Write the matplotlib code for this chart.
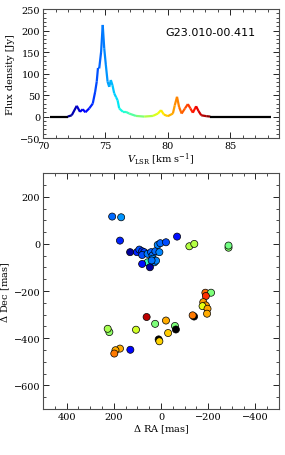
import numpy as np
import matplotlib
import matplotlib.pyplot as plt
from matplotlib.collections import LineCollection
from matplotlib.ticker import MultipleLocator

plt.rcParams['font.family'] = 'DejaVu Serif'
plt.rcParams['mathtext.fontset'] = 'dejavuserif'

# spectrum
vel = [70.58, 71.0, 71.5, 71.98, 72.3, 72.7, 72.96, 73.18, 73.39, 73.7, 73.98,
       74.17, 74.3, 74.4, 74.5, 74.65, 74.78, 74.9, 75.03, 75.17, 75.3, 75.43,
       75.56, 75.7, 75.85, 75.97, 76.1, 76.4, 76.64, 76.9, 77.44, 78.1, 78.8,
       79.2, 79.45, 79.68, 80.0, 80.4, 80.55, 80.73, 80.9, 81.1, 81.37, 81.6,
       81.8, 82.0, 82.26, 82.45, 82.67, 83.07, 83.4, 84.5, 86.0, 87.5, 88.23]
flux = [0, 0, 0, 0, 3, 25, 11, 17, 10, 19, 30,
        57, 81, 113, 112, 150, 213, 159, 120, 81, 69, 85,
        73, 54, 45, 38, 19, 11, 11, 7, 1.5, 0, 1.5,
        7, 15, 4.6, 1, 7, 26, 46, 22, 7, 19, 29,
        19, 9, 24, 13, 3, 1, 0, 0, 0, 0, 0]
vmin, vmax = 72.0, 83.4

# maser spots
ra = [207, 169, 174, 131, 102, 92, 80, 71, 80, 57, 42, 36, 24, 7, 14, 3, -21,
      -68, 36, 28, 21, 57, 47, 80, 40,
      -120, -141, -286, -286, -188, -212, -190, -179, -190, -176, -197, -195,
      -140, -134, 61, 25, -21, -59, -63, -30, 106, 219, 226, 10, 7,
      130, 174, 193, 198]
dec = [116, 113, 14, -35, -35, -24, -31, -35, -47, -42, -35, -49, -31, -35, -4,
       3, 7, 31, -63, -78, -71, -78, -99, -85, -70,
       -10, 0, -16, -7, -207, -207, -221, -247, -261, -264, -275, -296,
       -308, -303, -310, -339, -325, -348, -363, -378, -364, -374, -360,
       -405, -413, -449, -444, -451, -465]
spot_vel = [74.6, 75.1, 73.8, 72.3, 73.8, 74.3, 74.0, 74.2, 74.3, 74.8, 74.5,
            74.7, 74.6, 74.9, 74.9, 74.6, 74.3, 73.6, 75.1, 74.85, 74.9,
            76.8, 72.4, 73.6, 74.7,
            78.5, 78.5, 77.9, 77.6, 81.1, 77.7, 81.8, 80.5, 80.5, 79.2,
            80.4, 80.3, 84.0, 80.9, 82.8, 77.7, 80.3, 77.7, 84.0, 79.9, 78.9,
            78.0, 78.3, 84.0, 79.8, 73.5, 80.3, 80.3, 80.9]

cmap = matplotlib.colormaps['jet'].copy()
cmap.set_over('k')
cmap.set_under('k')
norm = plt.Normalize(vmin, vmax)

fig = plt.figure(figsize=(2.85, 4.56), dpi=100)
ax1 = fig.add_axes([0.151, 0.695, 0.828, 0.283])
ax2 = fig.add_axes([0.151, 0.101, 0.828, 0.517])

v = np.array(vel)
f = np.array(flux)
pts = np.column_stack([v, f]).reshape(-1, 1, 2)
segs = np.concatenate([pts[:-1], pts[1:]], axis=1)
mid = 0.5 * (v[:-1] + v[1:])
lc = LineCollection(segs, cmap=cmap, norm=norm, linewidth=1.6)
lc.set_array(mid)
ax1.add_collection(lc)
ax1.set_xlim(70, 88.9)
ax1.set_ylim(-50, 250)
ax1.set_ylabel('Flux density [Jy]', fontsize=7)
ax1.yaxis.set_label_coords(-0.12, 0.5)
ax1.set_xlabel(r'$V_{\rm LSR}$ [km s$^{-1}$]', fontsize=7, labelpad=1)
ax1.text(0.9, 0.8, 'G23.010-00.411', transform=ax1.transAxes, ha='right',
         fontsize=8, family='DejaVu Sans')
ax1.xaxis.set_major_locator(MultipleLocator(5))
ax1.xaxis.set_minor_locator(MultipleLocator(1))
ax1.yaxis.set_major_locator(MultipleLocator(50))
ax1.yaxis.set_minor_locator(MultipleLocator(10))

ax2.scatter(ra, dec, c=spot_vel, cmap=cmap, norm=norm, s=26,
            edgecolors='k', linewidths=0.5, zorder=3)
ax2.set_xlim(500, -500)
ax2.set_ylim(-700, 300)
ax2.set_xlabel(r'$\Delta$ RA [mas]', fontsize=7, labelpad=1)
ax2.set_ylabel(r'$\Delta$ Dec [mas]', fontsize=7)
ax2.yaxis.set_label_coords(-0.13, 0.5)
ax2.xaxis.set_major_locator(MultipleLocator(200))
ax2.xaxis.set_minor_locator(MultipleLocator(50))
ax2.yaxis.set_major_locator(MultipleLocator(200))
ax2.yaxis.set_minor_locator(MultipleLocator(50))

for ax in (ax1, ax2):
    ax.tick_params(which='both', direction='in', top=True, right=True,
                   labelsize=7, pad=2)
    ax.tick_params(which='major', length=4, width=0.6)
    ax.tick_params(which='minor', length=2, width=0.5)
    for sp in ax.spines.values():
        sp.set_linewidth(0.8)
        sp.set_color('0.3')

fig.savefig('out.png', dpi=100)
